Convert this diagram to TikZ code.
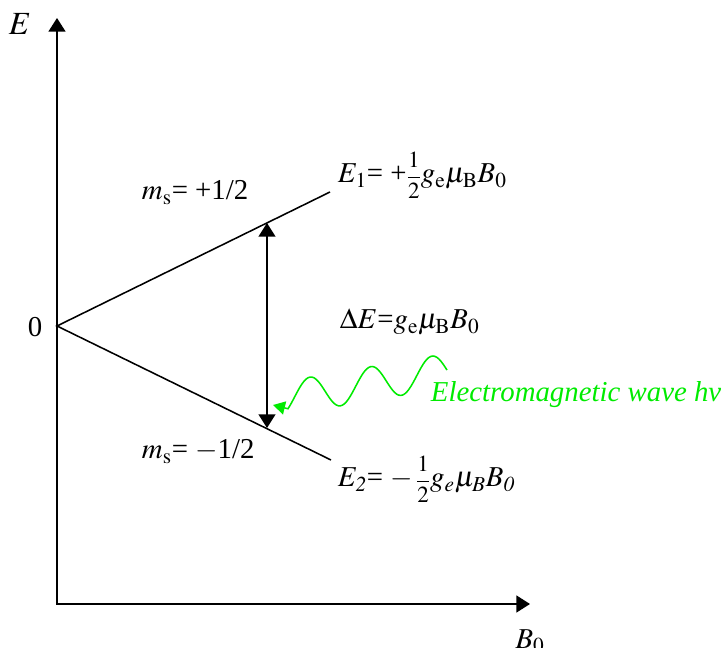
\documentclass[tikz,border=0pt]{standalone}
\usepackage{amsmath}
\usepackage{mathptmx}
\usepackage[no-math]{fontspec}
\setmainfont{Liberation Serif}
\usepackage{tikz}
\usetikzlibrary{arrows.meta, positioning, calc}
\usepackage{xcolor}
\definecolor{wavegreen}{RGB}{0,235,0}
\newcommand{\half}{\scalebox{0.8}{$\dfrac{1}{2}$}}

\begin{document}
\begin{tikzpicture}[x=0.025cm, y=-0.025cm, font=\fontsize{20.5}{24}\selectfont,
    >={Triangle[length=0.34cm, width=0.42cm]}]
  \useasboundingbox (0,0) rectangle (725,648);
  % Axes
  \coordinate (ytip) at (57,18);
  \coordinate (xtip) at (530,604);
  \draw[<->, line width=1.4pt] (ytip) |- (xtip);
  \node (elabel) at (20,24) {\fontsize{23}{26}\selectfont$E$};
  \node (blabel) at (530,641) {$B_0$};
  % Zeeman levels
  \coordinate (zero) at (57,326);
  \node (zerolabel) at (35,327) {0};
  \coordinate (upend) at (330,192);
  \coordinate (downend) at (331,460);
  \draw[line width=1.1pt] (upend) -- (zero) -- (downend);
  \node[anchor=base west] (uplabel) at (137,200) {$m_{\mathrm{s}}$= +1/2};
  \node[anchor=base west] (downlabel) at (137,459) {$m_{\mathrm{s}}$= $-$1/2};
  \node[anchor=base west] (eone) at (333,183)
    {$E_1$= +\half$g_{\mathrm{e}}\mu_{\mathrm{B}}B_0$};
  \node[anchor=base west] (etwo) at (333,487)
    {$E_{\mathit{2}}$= $-\,$\half$g_{\mathit{e}}\mu_{\mathit{B}}B_{\mathit{0}}$};
  % Transition
  \coordinate (uptop) at (267,223);
  \coordinate (downbot) at (267,428);
  \draw[<->, line width=1.1pt] (uptop) -- (downbot);
  \node[anchor=base west] (gap) at (335,329) {$\Delta E$=$g_{\mathrm{e}}\mu_{\mathrm{B}}B_0$};
  % Microwave
  \node[anchor=base west, wavegreen] (wave) at (426,402) {\itshape Electromagnetic wave hv};
  \coordinate (wavetip) at (273,405);
  \draw[wavegreen, line width=1.1pt, ->, >={Triangle[length=0.3cm, width=0.33cm]}]
    plot[domain=447:288, samples=80] (\x, {375.5+0.172*(418-\x)-17*cos(5.9016*(\x-432))})
    -- (wavetip);
\end{tikzpicture}
\end{document}
